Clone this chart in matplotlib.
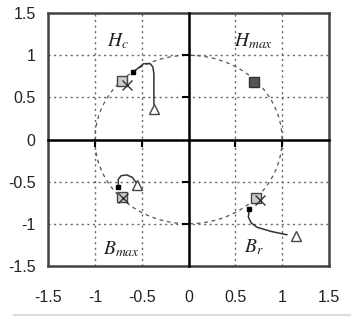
import matplotlib
matplotlib.use('Agg')
import matplotlib.pyplot as plt
from matplotlib.lines import Line2D
import numpy as np

plt.rcParams['font.family'] = ['Liberation Sans', 'DejaVu Sans']
plt.rcParams['mathtext.fontset'] = 'stix'

ticks = [-1.5, -1, -0.5, 0, 0.5, 1, 1.5]
tick_labels = ['-1.5', '-1', '-0.5', '0', '0.5', '1', '1.5']
zero_ticks = [-1, -0.5, 0.5, 1]

# unit circle (dashed reference)
circle_deg = np.linspace(0, 360, 361)

# squares (open) and crosses per quadrant
sq_x = [-0.71, -0.71, 0.72]
sq_y = [0.70, -0.68, -0.69]
cross_x = [-0.66, -0.70, 0.76]
cross_y = [0.65, -0.69, -0.72]
hmax_x = [0.70]
hmax_y = [0.68]

# trajectories: small filled start point -> open triangle
hc_x = [-0.59, -0.48, -0.41, -0.38, -0.37, -0.37]
hc_y = [0.80, 0.90, 0.90, 0.86, 0.78, 0.42]
bm_x = [-0.75, -0.75, -0.72, -0.66, -0.60, -0.56]
bm_y = [-0.56, -0.47, -0.43, -0.42, -0.45, -0.51]
br_x = [0.65, 0.64, 0.67, 0.73, 0.88, 1.05]
br_y = [-0.82, -0.92, -0.99, -1.04, -1.09, -1.13]
start_x = [hc_x[0], bm_x[0], br_x[0]]
start_y = [hc_y[0], bm_y[0], br_y[0]]
tri_x = [-0.37, -0.55, 1.15]
tri_y = [0.36, -0.54, -1.15]

labels = ['$H_c$', '$H_{max}$', '$B_{max}$', '$B_r$']
label_x = [-0.75, 0.70, -0.72, 0.70]
label_y = [1.17, 1.17, -1.30, -1.28]

fig = plt.figure(figsize=(3.54, 3.2), dpi=100)
ax = fig.add_axes([0.136, 0.169, 0.793, 0.790])
ax.set_xlim(-1.5, 1.5)
ax.set_ylim(-1.5, 1.5)
ax.set_xticks(ticks)
ax.set_yticks(ticks)
ax.set_xticklabels(tick_labels)
ax.set_yticklabels(tick_labels)
ax.tick_params(axis='both', length=0, labelsize=11.5, colors='#222222')
ax.tick_params(axis='x', pad=17)
ax.tick_params(axis='y', pad=9)
ax.grid(ls=(0, (1.5, 2.5)), color='#666666', lw=1.0)
for s in ax.spines.values():
    s.set_linewidth(1.8)
    s.set_color('#444444')

t = np.radians(circle_deg)
ax.plot(np.cos(t), np.sin(t), ls=(0, (3, 3)), color='#555555', lw=0.9)

for xs, ys in [(hc_x, hc_y), (bm_x, bm_y), (br_x, br_y)]:
    ax.plot(xs, ys, color='#333333', lw=1.1)
ax.plot(sq_x, sq_y, 's', ms=7, mfc='#cccccc', mec='#444444', mew=1.0, ls='')
ax.plot(cross_x, cross_y, 'x', ms=7, color='#333333', mew=1.0, ls='')
ax.plot(hmax_x, hmax_y, 's', ms=7.5, mfc='#555555', mec='#333333', ls='')
ax.plot(start_x, start_y, 's', ms=3.5, color='black', ls='')
ax.plot(tri_x, tri_y, '^', ms=7.5, mfc='white', mec='#444444', mew=1.0, ls='')

for lab, x, y in zip(labels, label_x, label_y):
    ax.text(x, y, lab, fontsize=14, ha='center', va='center', color='#222222')

# zero axes with small ticks
ax2 = fig.add_axes(ax.get_position(), frameon=True)
ax2.patch.set_visible(False)
ax2.set_xlim(-1.5, 1.5)
ax2.set_ylim(-1.5, 1.5)
ax2.spines['left'].set_position(('data', 0))
ax2.spines['bottom'].set_position(('data', 0))
ax2.spines['top'].set_visible(False)
ax2.spines['right'].set_visible(False)
for s in ['left', 'bottom']:
    ax2.spines[s].set_linewidth(1.8)
    ax2.spines[s].set_color('black')
ax2.set_xticks(zero_ticks)
ax2.set_yticks(zero_ticks)
ax2.tick_params(direction='out', length=5, width=1.5, labelbottom=False, labelleft=False)

fig.add_artist(Line2D([0.04, 0.99], [0.016, 0.016], color='#dddddd', lw=1.5))

fig.savefig('out.png', dpi=100)
